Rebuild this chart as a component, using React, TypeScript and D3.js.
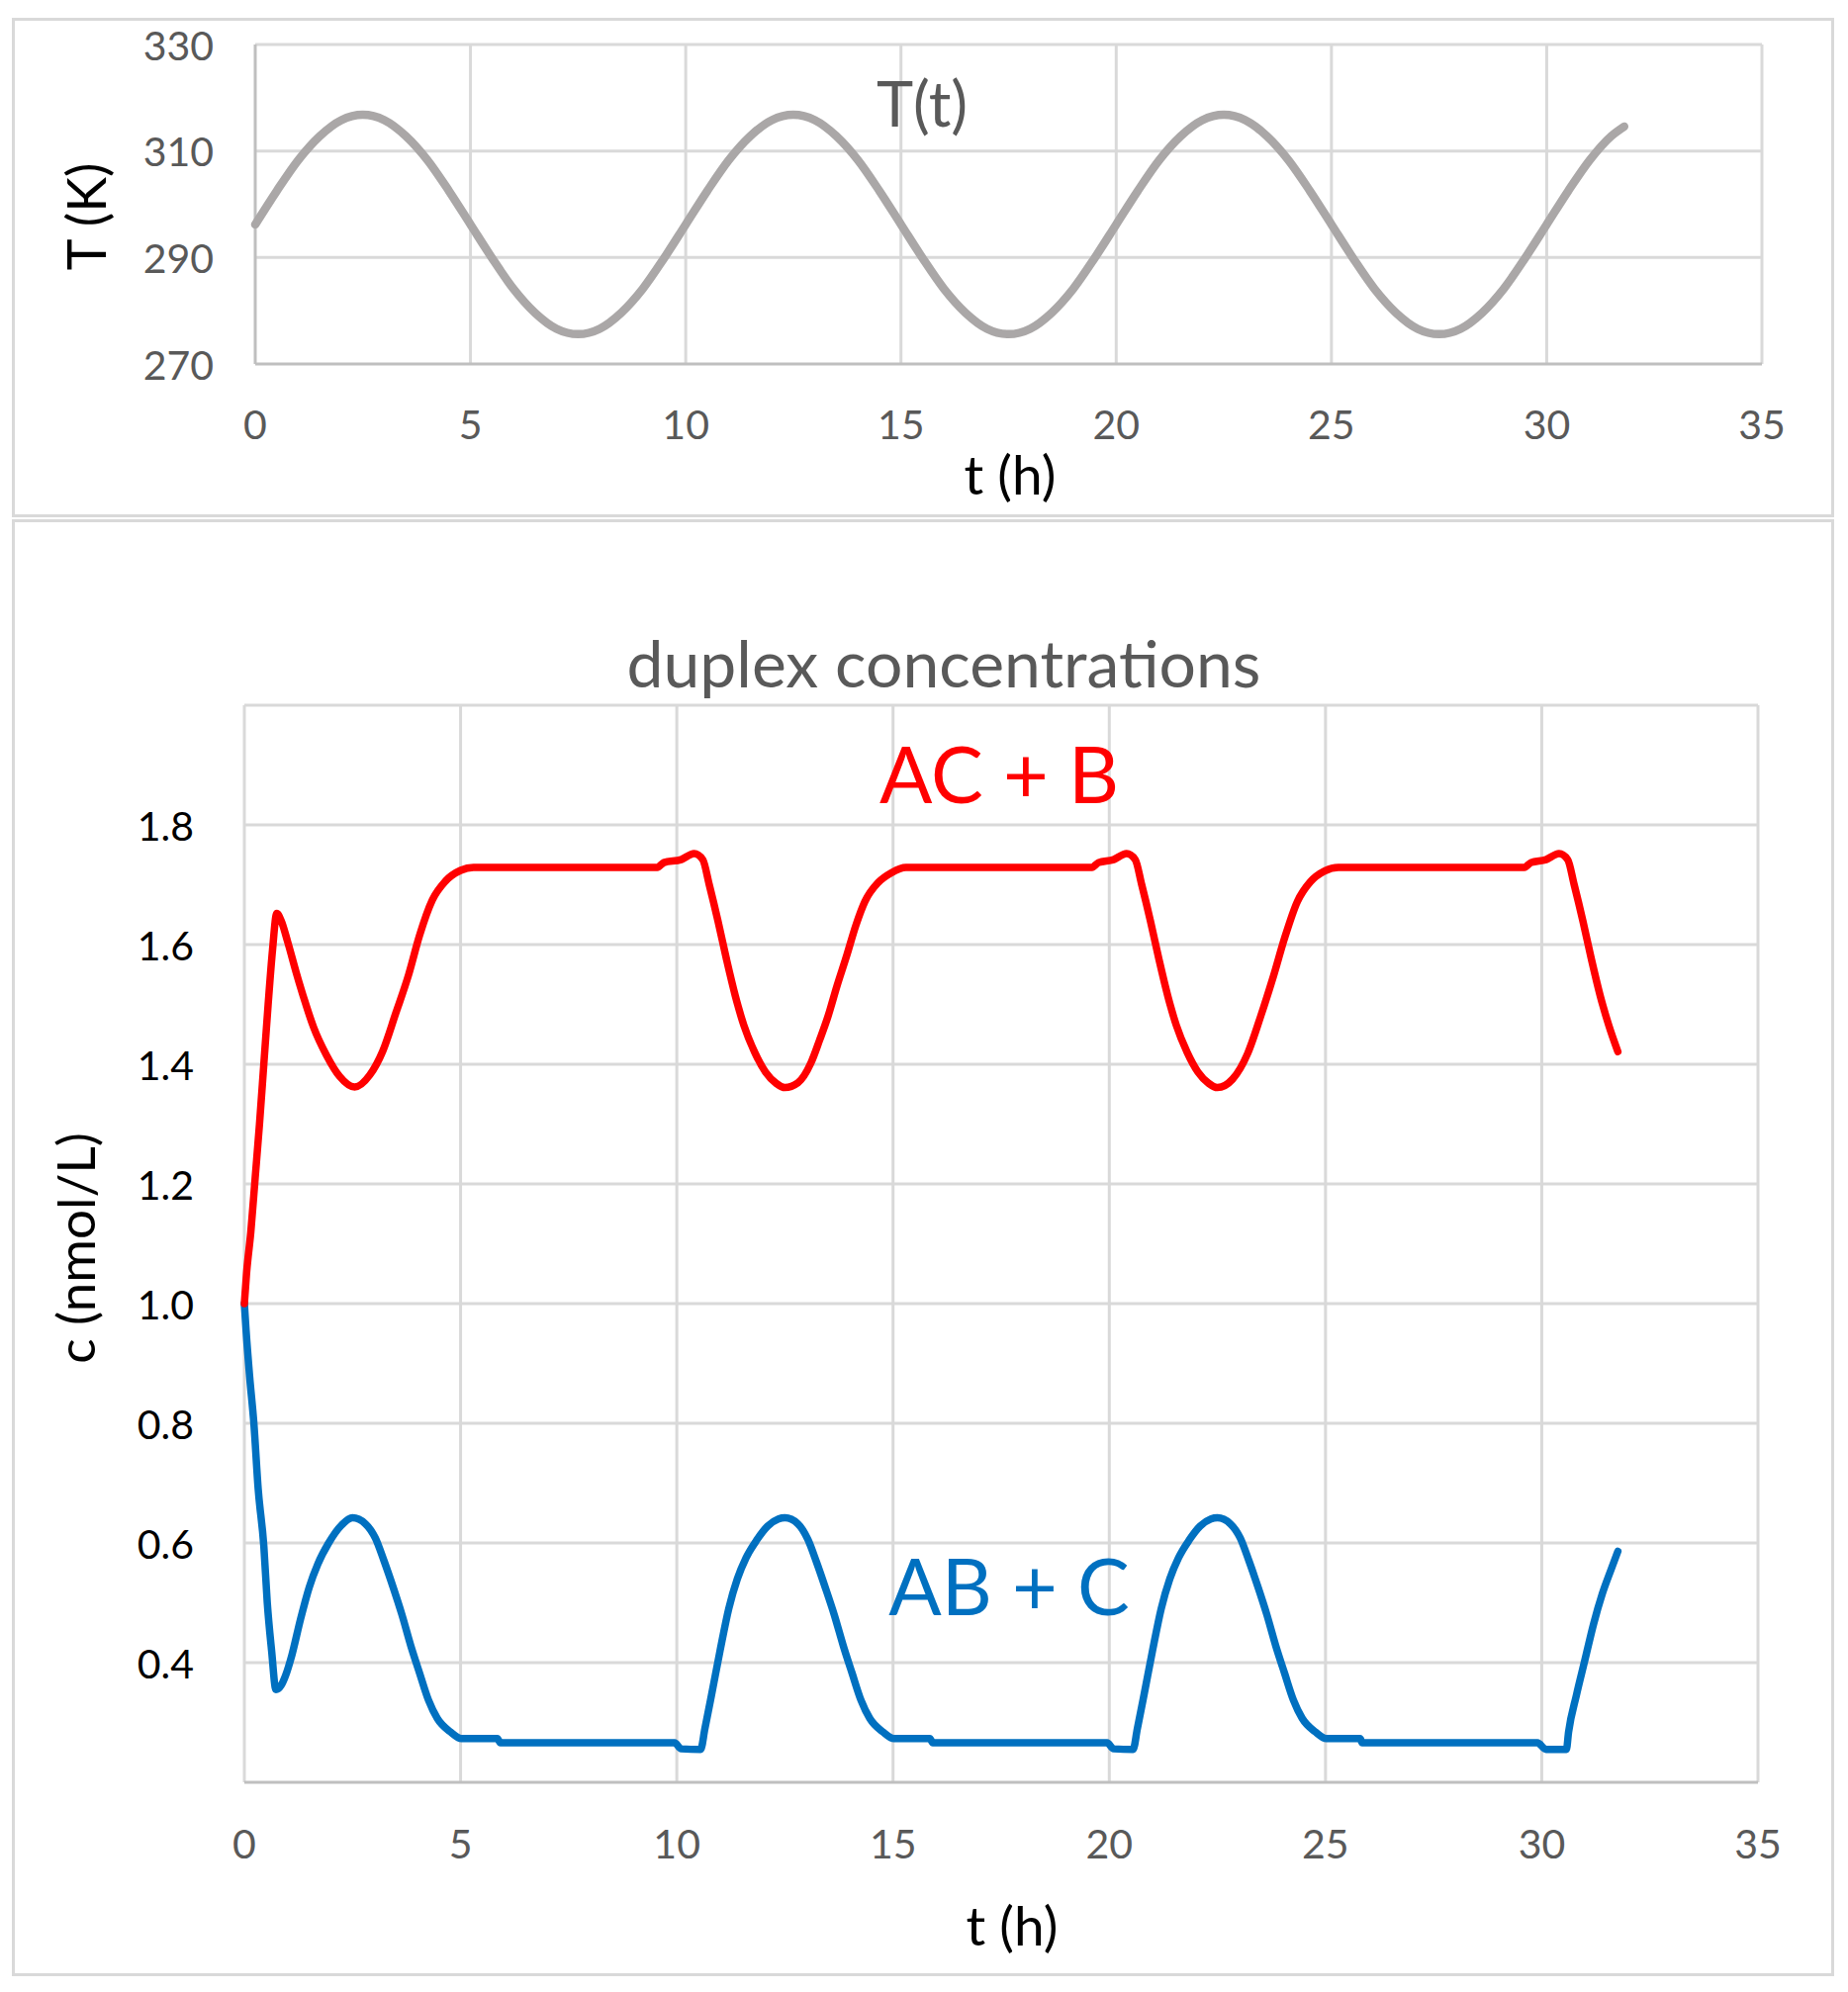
import * as d3 from "d3";

// ---- data ----
const tempTimes = [
  0, 0.5, 1, 1.5, 2, 2.5, 3, 3.5, 4, 4.5, 5, 5.5, 6, 6.5, 7, 7.5, 8, 8.5, 9, 9.5,
  10, 10.5, 11, 11.5, 12, 12.5, 13, 13.5, 14, 14.5, 15, 15.5, 16, 16.5, 17, 17.5, 18, 18.5, 19, 19.5,
  20, 20.5, 21, 21.5, 22, 22.5, 23, 23.5, 24, 24.5, 25, 25.5, 26, 26.5, 27, 27.5, 28, 28.5, 29, 29.5,
  30, 30.5, 31, 31.5, 31.8,
];
const tempK = [
  296.2, 302.5, 308.3, 312.8, 315.8, 316.8, 315.8, 312.8, 308.3, 302.5, 296.2, 289.9, 284.1, 279.6, 276.6, 275.6, 276.6, 279.6, 284.1, 289.9,
  296.2, 302.5, 308.3, 312.8, 315.8, 316.8, 315.8, 312.8, 308.3, 302.5, 296.2, 289.9, 284.1, 279.6, 276.6, 275.6, 276.6, 279.6, 284.1, 289.9,
  296.2, 302.5, 308.3, 312.8, 315.8, 316.8, 315.8, 312.8, 308.3, 302.5, 296.2, 289.9, 284.1, 279.6, 276.6, 275.6, 276.6, 279.6, 284.1, 289.9,
  296.2, 302.5, 308.3, 312.8, 314.6,
];

// AC + B (red)
const acbTimes = [
  0, 0.05, 0.15, 0.25, 0.35, 0.45, 0.55, 0.65, 0.75, 0.85, 1.0, 1.2, 1.4, 1.6, 1.9, 2.2, 2.55, 2.9, 3.2, 3.5, 3.8, 4.05, 4.35, 4.65, 5.0, 5.3,
  9.55, 9.7, 10.1, 10.4, 10.6, 10.75, 10.95, 11.15, 11.35, 11.55, 11.8, 12.05, 12.3, 12.5, 12.8, 13.1, 13.3, 13.5, 13.7, 13.93, 14.14, 14.35, 14.66, 14.96, 15.3,
  19.6, 19.75, 20.1, 20.4, 20.6, 20.75, 20.95, 21.15, 21.35, 21.55, 21.8, 22.05, 22.3, 22.5, 22.85, 23.2, 23.5, 23.8, 24.05, 24.35, 24.65, 24.98, 25.3,
  29.6, 29.75, 30.1, 30.4, 30.6, 30.75, 30.95, 31.15, 31.35, 31.55, 31.76,
];
const acbConc = [
  1.0, 1.05, 1.12, 1.21, 1.3, 1.4, 1.5, 1.59, 1.652, 1.64, 1.605, 1.553, 1.505, 1.462, 1.415, 1.38, 1.362, 1.382, 1.422, 1.485, 1.55, 1.615, 1.675, 1.706, 1.724, 1.729,
  1.729, 1.737, 1.742, 1.752, 1.742, 1.7, 1.64, 1.575, 1.515, 1.465, 1.42, 1.387, 1.368, 1.361, 1.369, 1.402, 1.44, 1.481, 1.53, 1.582, 1.632, 1.672, 1.704, 1.72, 1.729,
  1.729, 1.737, 1.742, 1.752, 1.742, 1.7, 1.64, 1.575, 1.515, 1.465, 1.42, 1.387, 1.368, 1.361, 1.375, 1.418, 1.48, 1.548, 1.61, 1.672, 1.705, 1.723, 1.729,
  1.729, 1.737, 1.742, 1.752, 1.742, 1.7, 1.64, 1.575, 1.515, 1.465, 1.421,
];

// AB + C (blue)
const abcTimes = [
  0, 0.04, 0.12, 0.22, 0.32, 0.45, 0.53, 0.63, 0.73, 0.85, 0.95, 1.1, 1.3, 1.5, 1.7, 1.95, 2.25, 2.5, 2.8, 3.03, 3.23, 3.44, 3.64, 3.85, 4.05, 4.26, 4.46, 4.77, 5.02, 5.85, 5.92,
  9.95, 10.1, 10.55, 10.65, 10.8, 11.0, 11.2, 11.4, 11.6, 11.85, 12.1, 12.35, 12.5, 12.8, 13.03, 13.23, 13.44, 13.64, 13.85, 14.05, 14.26, 14.46, 14.77, 15.02, 15.85, 15.92,
  19.95, 20.1, 20.55, 20.65, 20.8, 21.0, 21.2, 21.4, 21.6, 21.85, 22.1, 22.35, 22.5, 22.8, 23.03, 23.23, 23.44, 23.64, 23.85, 24.05, 24.26, 24.46, 24.77, 25.02, 25.8, 25.85,
  29.9, 30.1, 30.57, 30.62, 30.8, 31.0, 31.2, 31.4, 31.6, 31.76,
];
const abcConc = [
  1.0, 0.955, 0.88, 0.8, 0.69, 0.595, 0.5, 0.42, 0.355, 0.362, 0.378, 0.413, 0.473, 0.526, 0.565, 0.6, 0.63, 0.642, 0.632, 0.608, 0.57, 0.526, 0.481, 0.428, 0.383, 0.337, 0.307, 0.284, 0.273, 0.273, 0.266,
  0.266, 0.256, 0.255, 0.29, 0.345, 0.42, 0.49, 0.54, 0.575, 0.605, 0.628, 0.64, 0.642, 0.632, 0.606, 0.568, 0.524, 0.48, 0.428, 0.383, 0.337, 0.307, 0.284, 0.273, 0.273, 0.266,
  0.266, 0.256, 0.255, 0.29, 0.345, 0.42, 0.49, 0.54, 0.575, 0.605, 0.628, 0.64, 0.642, 0.632, 0.608, 0.57, 0.526, 0.481, 0.428, 0.383, 0.337, 0.307, 0.284, 0.273, 0.273, 0.266,
  0.266, 0.255, 0.255, 0.284, 0.345, 0.405, 0.465, 0.515, 0.555, 0.586,
];

const xTicks = [0, 5, 10, 15, 20, 25, 30, 35];
const tempTicks = [270, 290, 310, 330];
const concGrid = [0.4, 0.6, 0.8, 1.0, 1.2, 1.4, 1.6, 1.8, 2.0];
const concLabels = [0.4, 0.6, 0.8, 1.0, 1.2, 1.4, 1.6, 1.8];

const FONT = "Lato, 'Open Sans', sans-serif";
const GRID = "#d9d9d9", AXIS = "#bfbfbf", TICK = "#595959";

export default function App() {
  const W = 1868, H = 2014;

  // top panel: T(t)
  const x1 = d3.scaleLinear().domain([0, 35]).range([258, 1781]);
  const y1 = d3.scaleLinear().domain([270, 330]).range([368, 45]);
  // bottom panel: concentrations
  const x2 = d3.scaleLinear().domain([0, 35]).range([247, 1777]);
  const y2 = d3.scaleLinear().domain([0.2, 2.0]).range([1802, 713]);

  const lineT = d3.line<number>().x((_, i) => x1(tempTimes[i])).y(d => y1(d)).curve(d3.curveMonotoneX);
  const lineAcb = d3.line<number>().x((_, i) => x2(acbTimes[i])).y(d => y2(d)).curve(d3.curveMonotoneX);
  const lineAbc = d3.line<number>().x((_, i) => x2(abcTimes[i])).y(d => y2(d)).curve(d3.curveMonotoneX);

  return (
    <svg width={W} height={H} viewBox={`0 0 ${W} ${H}`}
      style={{ position: "absolute", left: 0, top: 0, background: "#fff", fontFamily: FONT }}>
      <rect x={0} y={0} width={W} height={H} fill="#fff" />

      {/* panel frames */}
      <rect x={13.5} y={19.5} width={1839} height={502} fill="none" stroke={GRID} strokeWidth={3} />
      <rect x={13.5} y={526.5} width={1839} height={1470} fill="none" stroke={GRID} strokeWidth={3} />

      {/* ── top chart ── */}
      {tempTicks.slice(1).map(t => <line key={t} x1={x1(0)} x2={x1(35)} y1={y1(t)} y2={y1(t)} stroke={GRID} strokeWidth={3} />)}
      {xTicks.slice(1).map(t => <line key={t} x1={x1(t)} x2={x1(t)} y1={y1(330)} y2={y1(270)} stroke={GRID} strokeWidth={3} />)}
      <line x1={x1(0)} x2={x1(0)} y1={y1(330)} y2={y1(270)} stroke={AXIS} strokeWidth={3} />
      <line x1={x1(0)} x2={x1(35)} y1={y1(270)} y2={y1(270)} stroke={AXIS} strokeWidth={3} />
      {tempTicks.map(t => <text key={t} x={216} y={y1(t)} textAnchor="end" dominantBaseline="central" fontSize={41} fill={TICK}>{t}</text>)}
      {xTicks.map(t => <text key={t} x={x1(t)} y={428} textAnchor="middle" dominantBaseline="central" fontSize={41} fill={TICK}>{t}</text>)}
      <path d={lineT(tempK) ?? ""} fill="none" stroke="#aaa7a7" strokeWidth={8.5} strokeLinecap="round" strokeLinejoin="round" />
      <text x={932} y={128} textAnchor="middle" fontSize={63} fill={TICK}>T(t)</text>
      <text x={1021} y={500} textAnchor="middle" fontSize={55} fill="#000">t (h)</text>
      <text transform="translate(107 219) rotate(-90)" textAnchor="middle" fontSize={54} fill="#000">T (K)</text>

      {/* ── bottom chart ── */}
      {concGrid.map(v => <line key={v} x1={x2(0)} x2={x2(35)} y1={y2(v)} y2={y2(v)} stroke={GRID} strokeWidth={3} />)}
      {xTicks.map(t => <line key={t} x1={x2(t)} x2={x2(t)} y1={y2(2.0)} y2={y2(0.2)} stroke={GRID} strokeWidth={3} />)}
      <line x1={x2(0)} x2={x2(35)} y1={y2(0.2)} y2={y2(0.2)} stroke={AXIS} strokeWidth={3} />
      {concLabels.map(v => <text key={v} x={196} y={y2(v)} textAnchor="end" dominantBaseline="central" fontSize={41} fill="#000">{v.toFixed(1)}</text>)}
      {xTicks.map(t => <text key={t} x={x2(t)} y={1863} textAnchor="middle" dominantBaseline="central" fontSize={41} fill={TICK}>{t}</text>)}
      <path d={lineAbc(abcConc) ?? ""} fill="none" stroke="#0070c0" strokeWidth={7.5} strokeLinecap="round" strokeLinejoin="round" />
      <path d={lineAcb(acbConc) ?? ""} fill="none" stroke="#ff0000" strokeWidth={7.5} strokeLinecap="round" strokeLinejoin="round" />
      <text x={954} y={695} textAnchor="middle" fontSize={66} fill={TICK}>duplex concentrations</text>
      <text x={1010} y={812} textAnchor="middle" fontSize={79} fill="#ff0000">AC + B</text>
      <text x={1020} y={1633} textAnchor="middle" fontSize={79} fill="#0070c0">AB + C</text>
      <text x={1023} y={1967} textAnchor="middle" fontSize={55} fill="#000">t (h)</text>
      <text transform="translate(96 1262) rotate(-90)" textAnchor="middle" fontSize={53} fill="#000">c (nmol/L)</text>
    </svg>
  );
}
